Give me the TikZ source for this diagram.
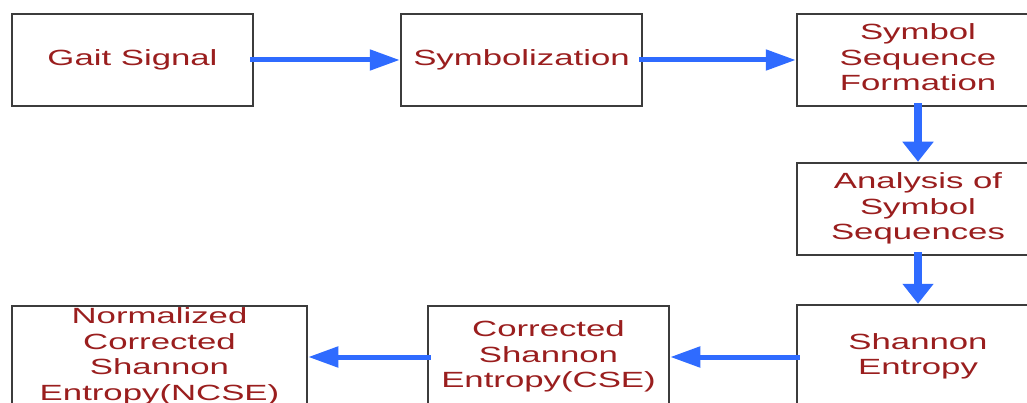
\documentclass[tikz,border=0pt]{standalone}
\usepackage{fontspec}
\setmainfont{Liberation Sans}
\usepackage{graphicx}
\usetikzlibrary{arrows.meta}
\definecolor{txtred}{HTML}{9A1E1E}
\definecolor{arrblue}{HTML}{2F6BFF}
\definecolor{boxgray}{HTML}{3C3C3C}
\newcommand{\boxtext}[1]{\raisebox{-2.5pt}{\scalebox{1.58}[1]{\begin{tabular}{@{}c@{}}#1\end{tabular}}}}
\tikzset{
  blk/.style={draw=boxgray, line width=2.5pt, fill=white, rectangle, inner sep=0pt,
    text=txtred, font=\fontsize{22}{25.5}\selectfont},
  harr/.style={draw=arrblue, line width=5pt, -{Triangle[length=30pt,width=20pt]}},
  varr/.style={draw=arrblue, line width=8pt, -{Triangle[length=20pt,width=30pt]}},
}
\begin{document}
\begin{tikzpicture}[x=1pt,y=-1pt]
\useasboundingbox (0,0) rectangle (1027,403);
\clip (0,0) rectangle (1027,403);
\fill[white] (0,0) rectangle (1027,403);
\node[blk, minimum width=241pt, minimum height=92pt] (gait) at (132.5,60) {\boxtext{Gait Signal}};
\node[blk, minimum width=241pt, minimum height=92pt] (sym) at (521.5,60) {\boxtext{Symbolization}};
\node[blk, minimum width=242pt, minimum height=92pt] (ssf) at (918,60) {\boxtext{Symbol\\Sequence\\Formation}};
\node[blk, minimum width=242pt, minimum height=92pt] (ana) at (918,209) {\boxtext{Analysis of\\Symbol\\Sequences}};
\node[blk, minimum width=242pt, minimum height=104pt] (sha) at (918,357) {\boxtext{Shannon\\Entropy}};
\node[blk, minimum width=241pt, minimum height=102pt] (cse) at (548.5,357) {\boxtext{Corrected\\Shannon\\Entropy(CSE)}};
\node[blk, minimum width=295pt, minimum height=102pt] (ncse) at (159.5,357) {\boxtext{Normalized\\Corrected\\Shannon\\Entropy(NCSE)}};
\draw[harr, shorten <=-4pt] (gait.east) -- (sym.west);
\draw[harr, shorten <=-4pt] (sym.east) -- (ssf.west);
\draw[varr, shorten <=-4pt] (ssf.south) -- (ana.north);
\draw[varr, shorten <=-4pt] (ana.south) -- (sha.north);
\draw[harr, shorten <=-4pt] (sha.west) -- (cse.east);
\draw[harr, shorten <=-4pt] (cse.west) -- (ncse.east);
\end{tikzpicture}
\end{document}
